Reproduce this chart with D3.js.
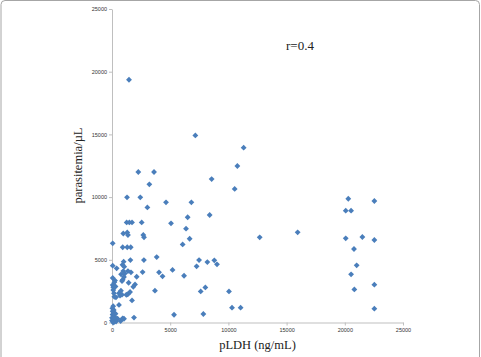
<!DOCTYPE html>
<html>
<head>
<meta charset="utf-8">
<script src="https://cdn.jsdelivr.net/npm/d3@7"></script>
<style>
	body { margin: 0; background: #fff; }
	.axis path, .axis line { stroke: #bfbfbf; }
	.axis text { font-family: "Liberation Sans", Arial, sans-serif; font-size: 5.5px; fill: #333; }
	.title { font-family: "Liberation Serif", "Times New Roman", serif; fill: #222; }
</style>
</head>
<body>
<div id="container"></div>
<script>
// pLDH (ng/mL) for each patient
var pldh = [
	1460, 7160, 11310, 10770, 2260, 3610, 3210, 8560, 10540,
	1290, 2430, 4640, 6820, 3040, 8390, 6500, 5070,
	1260, 1490, 1720, 2550,
	970, 1310, 1370, 2690, 2750, 6360, 6670, 6070, 60,
	920, 1310, 1610,
	12690, 15950,
	20300, 20080, 20540, 22540, 20080, 21510, 22540, 20790, 21020, 20540, 20820, 22540, 22540,
	10050, 10310, 11050, 7850, 5330, 7620, 8020, 7270, 7480, 8190, 8790, 9020, 6190, 5200, 3840, 4040, 4340, 3690,
	2740, 2630, 2120, 1980, 1830, 1720, 1890, 1580, 1630, 1370, 1430, 1350, 1550, 1230,
	60, 400, 900, 1000, 1050, 970, 1100, 780, 1030, 920, 860, 260, 60, 200, 60, 110, 300,
	110, 170, 600, 690, 340, 200, 770, 860, 600, 30, 60, 50, 110, 260, 0, 60, 0, 200,
	480, 740, 920, 1030, 200, 350, 100, 150, 100, 300, 130
];

// parasitemia (/µL), same order
var parasitemia = [
	19360, 14920, 13940, 12480, 12000, 12000, 11020, 11440, 10650,
	9980, 9980, 9580, 9580, 9180, 8570, 8390, 7910,
	7980, 7980, 7980, 7980,
	7100, 7180, 6980, 6980, 6790, 7480, 6680, 6230, 6310,
	6000, 6000, 6000,
	6790, 7190,
	9870, 8920, 8920, 9690, 6710, 6820, 6580, 5860, 4560, 3840, 2640, 3020, 1100,
	2480, 1180, 1180, 680, 620, 2480, 2800, 4480, 4980, 4820, 4960, 4640, 3730, 4190, 5220, 4000, 3680, 2540,
	4980, 4020, 3650, 3040, 2850, 1760, 390, 4980, 4000, 4100, 3170, 2240, 2430, 2210,
	4530, 4320, 4600, 4850, 4450, 4100, 3900, 3840, 3630, 3400, 3310, 3340, 3550, 3200, 2990, 2810, 2870,
	2590, 2330, 2330, 2140, 2010, 2050, 2540, 2220, 1400, 1130, 900, 630, 600, 410, 370, 120, 150, 250,
	300, 120, 330, 300, 50, 80, 0, 1000, 1300, 700, 760
];

var xTicks = [0, 5000, 10000, 15000, 20000, 25000];
var yTicks = [0, 5000, 10000, 15000, 20000, 25000];

var xLabel = "pLDH (ng/mL)";
var yLabel = "parasitemia/\u00b5L";
var rLabel = "r=0.4";

function scatter(){

	var window_w = 481,
		window_h = 357;

	var margin = {top: 9, right: 78, bottom: 34.5, left: 112},
		width = window_w - (margin.left + margin.right),
		height = window_h - (margin.top + margin.bottom);

	var svg = d3.select("#container")
		.append("svg")
		.attr("width", window_w)
		.attr("height", window_h);

	// frame round the figure
	svg.append("rect")
		.attr("x", 1)
		.attr("y", 0.5)
		.attr("width", 478.5)
		.attr("height", 380)
		.attr("rx", 4)
		.attr("fill", "none")
		.attr("stroke", "#a6a6a6");

	var plot = svg.append("g")
		.attr("transform", "translate(" + margin.left + "," + margin.top + ")");

	var x = d3.scaleLinear().domain([0, 25000]).range([0, width]);
	var y = d3.scaleLinear().domain([0, 25000]).range([height, 0]);

	plot.append("g")
		.attr("class", "axis")
		.attr("transform", "translate(0," + height + ")")
		.call(d3.axisBottom(x)
			.tickValues(xTicks)
			.tickFormat(d3.format("d"))
			.tickSize(3)
			.tickSizeOuter(0)
			.tickPadding(3)
		);

	plot.append("g")
		.attr("class", "axis")
		.call(d3.axisLeft(y)
			.tickValues(yTicks)
			.tickFormat(d3.format("d"))
			.tickSize(3)
			.tickSizeOuter(0)
			.tickPadding(2)
		);

	var data = pldh.map(function(d, i) { return {x: d, y: parasitemia[i]}; });

	var diamond = d3.symbol().type(d3.symbolSquare).size(17);

	plot.selectAll(".dot")
		.data(data)
		.enter()
		.append("path")
		.attr("class", "dot")
		.attr("d", diamond)
		.attr("fill", "#4a7ebb")
		.attr("transform", function(d) {
			return "translate(" + x(d.x) + "," + y(d.y) + ") rotate(45)";
		});

	svg.append("text")
		.attr("class", "title")
		.attr("x", margin.left + width / 2)
		.attr("y", 349)
		.attr("text-anchor", "middle")
		.attr("font-size", "12.5px")
		.text(xLabel);

	svg.append("text")
		.attr("class", "title")
		.attr("transform", "translate(82,165.5) rotate(-90)")
		.attr("text-anchor", "middle")
		.attr("font-size", "12.5px")
		.text(yLabel);

	svg.append("text")
		.attr("class", "title")
		.attr("x", 300)
		.attr("y", 50)
		.attr("text-anchor", "middle")
		.attr("font-size", "13px")
		.text(rLabel);
}

scatter();
</script>
</body>
</html>
